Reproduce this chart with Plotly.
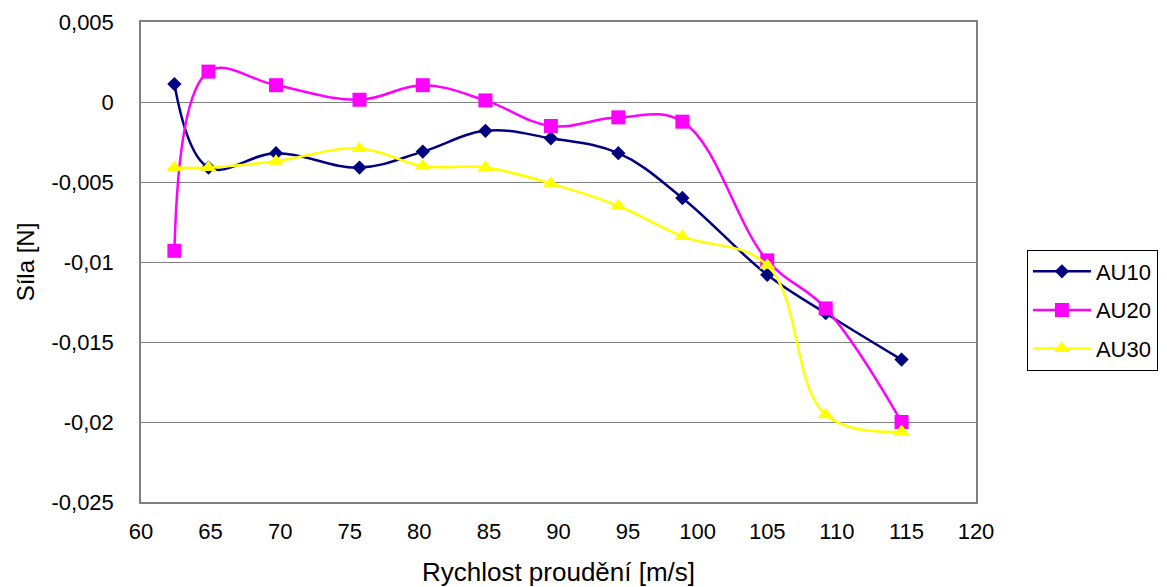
import plotly.graph_objects as go

speeds = [62.4, 64.85, 69.7, 75.7, 80.25, 84.75, 89.45, 94.3, 98.9, 105.0, 109.2, 114.65]
au10 = [0.00112, -0.0041, -0.0032, -0.0041, -0.0031, -0.0018, -0.00227, -0.0032, -0.0060, -0.0108, -0.0132, -0.0161]
au20 = [-0.0093, 0.0019, 0.00105, 0.00014, 0.00105, 0.0001, -0.0015, -0.00096, -0.00123, -0.0099, -0.0129, -0.0200]
au30 = [-0.0041, -0.0041, -0.0037, -0.0029, -0.0040, -0.0041, -0.0051, -0.0065, -0.0084, -0.0102, -0.01955, -0.0206]

x_ticks = [60, 65, 70, 75, 80, 85, 90, 95, 100, 105, 110, 115, 120]
y_ticks = [0.005, 0, -0.005, -0.01, -0.015, -0.02, -0.025]
y_tick_labels = ["0,005", "0", "-0,005", "-0,01", "-0,015", "-0,02", "-0,025"]

FONT = "Liberation Sans, Arial, sans-serif"

fig = go.Figure()
series = [
    ("AU10", au10, "#000080", "diamond", 11),
    ("AU20", au20, "#FF00FF", "square", 14),
    ("AU30", au30, "#FFFF00", "triangle-up", 14),
]
for name, vals, col, sym, size in series:
    fig.add_trace(go.Scatter(
        x=speeds, y=vals, name=name, mode="lines+markers", legendgroup=name,
        line=dict(color=col, width=2.5, shape="spline", smoothing=1.1),
        marker=dict(color=col, symbol=sym, size=size, line=dict(width=0)),
    ))

fig.update_layout(
    width=1167, height=587,
    margin=dict(l=141, r=191, t=22, b=85, autoexpand=False),
    paper_bgcolor="white", plot_bgcolor="white",
    font=dict(family=FONT, size=22, color="black"),
    legend=dict(
        x=1.061, y=0.40, xanchor="left", yanchor="middle",
        bordercolor="black", borderwidth=1, bgcolor="white",
        font=dict(family=FONT, size=22, color="black"),
        tracegroupgap=7, itemwidth=58,
    ),
    showlegend=True,
)
fig.update_xaxes(
    range=[60, 120], tickvals=x_ticks, ticktext=[str(v) for v in x_ticks],
    showgrid=False, showline=True, linecolor="#808080", linewidth=1.5, mirror=True,
    ticks="", ticklabelstandoff=9, zeroline=False, automargin=False,
    title=dict(text="Rychlost proudění [m/s]", font=dict(family=FONT, size=26), standoff=20),
    tickfont=dict(family=FONT, size=22),
)
fig.update_yaxes(
    range=[-0.025, 0.005], tickvals=y_ticks, ticktext=y_tick_labels,
    showgrid=True, gridcolor="#808080", gridwidth=1,
    showline=True, linecolor="#808080", linewidth=1.5, mirror=True,
    ticks="", ticklabelstandoff=21, zeroline=False, automargin=False,
    title=dict(text="Síla [N]", font=dict(family=FONT, size=24), standoff=10),
    tickfont=dict(family=FONT, size=22),
)

fig.write_html("out.html")
